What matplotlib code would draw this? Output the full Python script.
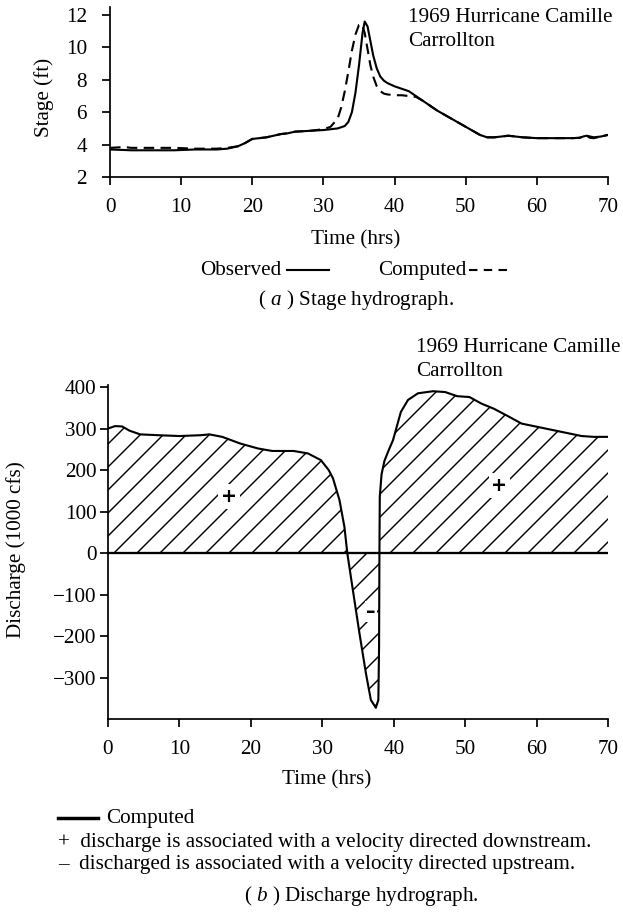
import numpy as np
import matplotlib
matplotlib.use("Agg")
from matplotlib import pyplot as plt
from matplotlib.lines import Line2D

# stage hydrograph (ft)
obs_t = [0, 3, 6, 9, 12, 15, 16.5, 18, 19, 20, 21, 22, 23, 24, 25, 26, 28, 30, 31, 32, 33,
         33.5, 34, 34.5, 35, 35.5, 35.8, 36.2, 36.6, 37, 37.5, 38, 38.5, 39, 40, 41, 42, 43,
         44, 46, 48, 50, 51, 52, 53, 54, 55, 56, 57, 58, 60, 62, 64, 65, 66, 66.5, 67, 67.5,
         68, 69, 70]
obs_stage = [3.7, 3.65, 3.65, 3.65, 3.7, 3.7, 3.75, 3.9, 4.1, 4.35, 4.4, 4.45, 4.55, 4.65,
             4.7, 4.8, 4.85, 4.9, 4.95, 5.0, 5.15, 5.4, 6.0, 7.2, 8.9, 10.9, 11.6, 11.3, 10.4,
             9.5, 8.7, 8.2, 7.95, 7.8, 7.6, 7.45, 7.3, 7.0, 6.7, 6.1, 5.6, 5.1, 4.85, 4.6,
             4.45, 4.45, 4.5, 4.55, 4.5, 4.45, 4.4, 4.4, 4.4, 4.4, 4.42, 4.5, 4.55, 4.5, 4.45,
             4.5, 4.6]

comp_t = [0, 2, 3, 6, 9, 12, 15, 16.5, 18, 19, 20, 21, 22, 23, 24, 25, 26, 28, 30, 31, 32,
          32.5, 33, 33.5, 34, 34.5, 35, 35.4, 35.8, 36.2, 36.6, 37, 37.5, 38, 38.5, 39, 40, 41,
          42, 43, 44, 46, 48, 50, 51, 52, 53, 54, 55, 56, 57, 58, 60, 62, 64, 65, 66, 66.5,
          67, 67.5, 68, 69, 70]
comp_stage = [3.8, 3.85, 3.8, 3.8, 3.8, 3.75, 3.75, 3.8, 3.9, 4.1, 4.35, 4.4, 4.45, 4.55,
              4.65, 4.7, 4.8, 4.85, 4.95, 5.1, 5.6, 6.3, 7.3, 8.5, 9.8, 10.8, 11.4, 11.45,
              10.9, 9.9, 8.9, 8.2, 7.6, 7.3, 7.15, 7.1, 7.05, 7.05, 7.0, 6.95, 6.7, 6.1, 5.6,
              5.1, 4.85, 4.6, 4.45, 4.45, 4.5, 4.55, 4.5, 4.45, 4.4, 4.4, 4.4, 4.4, 4.42, 4.5,
              4.52, 4.42, 4.4, 4.5, 4.6]

# discharge hydrograph (1000 cfs)
q_t = [0, 1, 2, 3, 4.5, 7, 10, 13, 14.2, 16, 18.5, 21, 23, 26, 28, 29.8, 30.9, 31.5, 32.4,
       33.1, 33.5, 34.2, 35.2, 36.1, 36.8, 37.5, 37.85, 37.95, 38.0, 38.05, 38.3, 38.7, 39.3,
       39.9, 41.0, 42.0, 43.4, 45.5, 47.2, 48.9, 50.6, 52.3, 54, 56.2, 57.9, 60.7, 63.5,
       66.3, 68, 70]
q_vals = [300, 306, 305, 295, 286, 284, 282, 284, 286, 280, 264, 252, 246, 246, 240, 224,
          200, 180, 128, 63, 0, -80, -193, -289, -354, -373, -354, -225, 0, 136, 190, 222,
          248, 272, 340, 369, 385, 390, 388, 378, 376, 360, 348, 328, 312, 302, 292, 282,
          280, 280]

time_ticks = [0, 10, 20, 30, 40, 50, 60, 70]
stage_ticks = [2, 4, 6, 8, 10, 12]
q_ticks = [-300, -200, -100, 0, 100, 200, 300, 400]

W, H, DPI = 623, 916, 138
FS = 11.0

plt.rcParams["font.family"] = ["Liberation Serif", "DejaVu Serif"]
plt.rcParams["mathtext.fontset"] = "custom"
plt.rcParams["mathtext.it"] = "Liberation Serif:italic"
plt.rcParams["mathtext.rm"] = "Liberation Serif"
plt.rcParams["hatch.linewidth"] = 0.75


def fx(px):
    return px / W


def fy(py):
    return 1 - py / H


def ftext(fig, px, py, s, **kw):
    kw.setdefault("fontsize", FS)
    kw.setdefault("va", "center")
    fig.text(fx(px), fy(py), s, **kw)


def style_axes(ax, ypad):
    for side in ("top", "right"):
        ax.spines[side].set_visible(False)
    for side in ("left", "bottom"):
        ax.spines[side].set_linewidth(0.9)
    ax.tick_params(axis="x", direction="out", length=4, width=0.9, labelsize=FS, pad=7)
    ax.tick_params(axis="y", direction="out", length=4, width=0.9, labelsize=FS, pad=ypad)


fig = plt.figure(figsize=(W / DPI, H / DPI), dpi=DPI)

# (a) stage hydrograph
ax1 = fig.add_axes([fx(110), fy(177), (608 - 110) / W, (177 - 7) / H])
ax1.plot(obs_t, obs_stage, color="black", lw=1.1)
ax1.plot(comp_t, comp_stage, color="black", lw=1.1, ls=(0, (5, 3)))
ax1.set_xlim(0, 70)
ax1.set_ylim(2, 12.5)
ax1.set_xticks(time_ticks)
ax1.set_yticks(stage_ticks)
style_axes(ax1, 8)

ftext(fig, 408, 17, "1969 Hurricane Camille")
ftext(fig, 408, 42, "Carrollton")
ftext(fig, 44, 97, "Stage (ft)", rotation=90, ha="center")
ftext(fig, 356, 240, "Time (hrs)", ha="center")
ftext(fig, 200, 270, "Observed")
fig.add_artist(Line2D([fx(287), fx(329)], [fy(270), fy(270)], color="black", lw=1.1))
ftext(fig, 378, 270, "Computed")
fig.add_artist(Line2D([fx(469), fx(512)], [fy(270), fy(270)], color="black", lw=1.1,
                      ls=(0, (4, 3))))
ftext(fig, 356, 300, r"( $a$ ) Stage hydrograph.", ha="center")

# (b) discharge hydrograph
ax2 = fig.add_axes([fx(108), fy(719), (608 - 108) / W, (719 - 385) / H])
ax2.fill_between(q_t, q_vals, 0, facecolor="none", edgecolor="black", lw=0, hatch="//")
ax2.plot(q_t, q_vals, color="black", lw=1.1)
ax2.axhline(0, color="black", lw=1.2)
ax2.set_xlim(0, 70)
ax2.set_ylim(-400, 405)
ax2.set_xticks(time_ticks)
ax2.set_yticks(q_ticks)
style_axes(ax2, 2)

sign_kw = dict(ha="center", va="center", fontsize=10, fontweight="bold",
               family="DejaVu Sans")
ax2.text(16.9, 136, "+", bbox=dict(facecolor="white", edgecolor="none", pad=1.5), **sign_kw)
ax2.text(54.8, 162, "+", bbox=dict(facecolor="white", edgecolor="none", pad=1.5), **sign_kw)
ax2.text(36.8, -140, "\u2013", bbox=dict(facecolor="white", edgecolor="none", pad=0.5),
         **sign_kw)

ftext(fig, 416, 347, "1969 Hurricane Camille")
ftext(fig, 416, 372, "Carrollton")
ftext(fig, 16, 550, "Discharge (1000 cfs)", rotation=90, ha="center")
ftext(fig, 327, 780, "Time (hrs)", ha="center")
fig.add_artist(Line2D([fx(58), fx(98)], [fy(818), fy(818)], color="black", lw=1.8))
ftext(fig, 106, 818, "Computed")
ftext(fig, 58, 842, "+  discharge is associated with a velocity directed downstream.")
ftext(fig, 58, 864, "\u2013  discharged is associated with a velocity directed upstream.")
ftext(fig, 361, 896, r"( $b$ ) Discharge hydrograph.", ha="center")

fig.savefig("out.png", dpi=DPI)
